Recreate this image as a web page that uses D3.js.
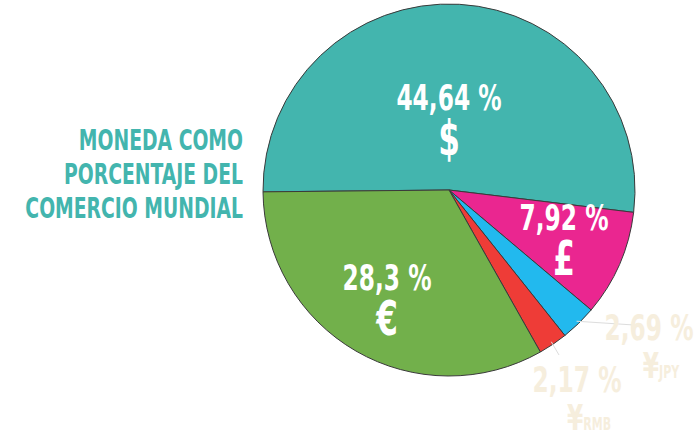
<!DOCTYPE html>
<html><head><meta charset="utf-8">
<script src="https://cdn.jsdelivr.net/npm/d3@7"></script>
<style>body{margin:0;background:#fff}</style>
</head><body>
<svg id="chart"></svg>
<script>
// Data
const currencies = ["USD", "GBP", "JPY", "RMB", "EUR"];
const shares = [44.64, 7.92, 2.69, 2.17, 28.3];
const shareLabels = ["44,64 %", "7,92 %", "2,69 %", "2,17 %", "28,3 %"];
const symbols = ["$", "£", "¥", "¥", "€"];
const symbolSub = ["", "", "JPY", "RMB", ""];
const colors = ["#43b5ae", "#ea2690", "#22b9ee", "#ee3c37", "#72b04b"];
const titleLines = ["MONEDA COMO", "PORCENTAJE DEL", "COMERCIO MUNDIAL"];

let width = 699, height = 442;
let cx = 449, cy = 190, r = 186;
let font = "'DejaVu Sans Condensed', 'Liberation Sans Narrow', sans-serif";
let sx = 0.72; // squeeze text horizontally to look condensed

let svg = d3.select("#chart").attr("width", width).attr("height", height);

let pie = d3.pie().sort(null)
    .startAngle(-Math.PI / 2 - 0.01)
    .endAngle(3 * Math.PI / 2 - 0.01);
let arcs = pie(shares);
let arc = d3.arc().innerRadius(0).outerRadius(r);

let g = svg.append("g").attr("transform", `translate(${cx},${cy})`);

g.selectAll("path")
    .data(arcs)
    .enter().append("path")
    .attr("d", arc)
    .attr("fill", (d, i) => colors[i])
    .attr("stroke", "#3a3a3a")
    .attr("stroke-width", 1);

function label(x, y, txt, size, fill, sub) {
    let t = g.append("g").attr("transform", `translate(${x},${y}) scale(${sx},1)`)
        .append("text").attr("text-anchor", "middle").attr("fill", fill)
        .style("font-family", font).style("font-weight", "bold");
    t.append("tspan").style("font-size", size + "px").text(txt);
    if (sub) t.append("tspan").style("font-size", "17px").text(sub);
}

// Inside labels (big slices)
let inside = [
    { i: 0, x: 0, y: -65 },
    { i: 1, x: 115, y: 55 },
    { i: 4, x: -62, y: 115 }
];
inside.forEach(p => {
    label(p.x, p.y - 15, shareLabels[p.i], 36, "#fff");
    label(p.x, p.y + 30, symbols[p.i], 48, "#fff");
});

// Outside labels (small slices)
let outside = [
    { i: 2, x: 200, y: 150, lx: 185, ly: 135 },
    { i: 3, x: 128, y: 202, lx: 110, ly: 165 }
];
let pale = "#f6eedd";
outside.forEach(p => {
    let a = (arcs[p.i].startAngle + arcs[p.i].endAngle) / 2;
    let x0 = Math.sin(a) * (r - 3), y0 = -Math.cos(a) * (r - 3);
    g.append("line").attr("x1", x0).attr("y1", y0).attr("x2", p.lx).attr("y2", p.ly)
        .attr("stroke", "#ddd").attr("stroke-width", 1);
    label(p.x, p.y, shareLabels[p.i], 36, pale);
    label(p.x + 12, p.y + 38, symbols[p.i], 36, pale, symbolSub[p.i]);
});

// Title
svg.append("g").attr("transform", `translate(243,0) scale(${sx},1)`)
    .selectAll("text")
    .data(titleLines)
    .enter().append("text")
    .attr("x", 0)
    .attr("y", (d, i) => 150 + i * 34)
    .attr("text-anchor", "end")
    .attr("fill", "#43b5ae")
    .style("font-family", font).style("font-weight", "bold").style("font-size", "29px")
    .text(d => d);
</script>
</body></html>
